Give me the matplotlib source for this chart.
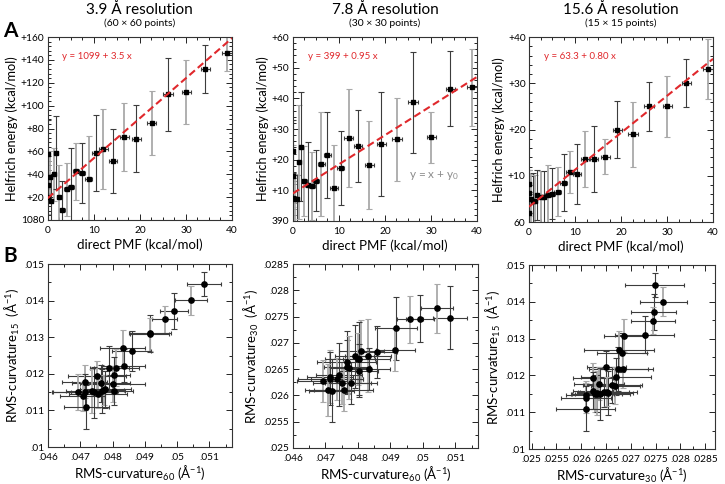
import matplotlib.pyplot as plt
from matplotlib.ticker import AutoMinorLocator, MultipleLocator, FuncFormatter

plt.rcParams['font.family'] = ['Lato', 'DejaVu Sans']
plt.rcParams['mathtext.default'] = 'regular'

# ---- top row: direct PMF vs Helfrich energy ----
pmf = [0.0, 0.05, 0.1, 0.4, 0.8, 1.4, 1.8, 2.5, 3.2, 4.1, 5.0, 6.2,
       7.5, 8.9, 10.4, 12.1, 14.1, 16.6, 19.2, 22.6, 26.1, 30.1, 34.2, 38.9]
pmf_err = [0.2, 0.2, 0.2, 0.3, 0.3, 0.4, 0.4, 0.5, 0.5, 0.6, 0.6, 0.7,
           0.7, 0.8, 0.8, 0.9, 0.9, 1.0, 1.0, 1.0, 1.0, 1.0, 1.0, 1.0]

# Helfrich energy above the panel baseline (kcal/mol)
helf_39 = [57.5, 30.6, 20.4, 38.0, 16.6, 40.0, 59.0, 19.9, 8.8, 26.9, 29.2, 42.6,
           41.0, 35.6, 58.7, 62.2, 52.0, 72.7, 71.2, 84.7, 110.0, 111.5, 132.0, 145.7]
helf_39_err = [30, 25, 20, 22, 20, 23, 32, 28, 25, 23, 34, 25,
               26, 38, 33, 35, 28, 30, 29, 28, 32, 28, 21, 15]
helf_78 = [22.9, 14.7, 7.6, 7.3, 7.1, 19.3, 24.2, 13.0, 11.8, 11.4, 13.1, 18.7,
           21.6, 10.9, 17.2, 27.0, 24.5, 18.3, 25.1, 26.6, 38.7, 27.3, 43.2, 43.6]
helf_78_err = [10, 10, 8, 8, 8, 18.7, 17.8, 11.5, 14, 11, 10, 17,
               14, 14, 12, 16, 11.7, 14.3, 17, 13.5, 16.4, 8.3, 12.3, 12.5]
helf_156 = [8.3, 6.3, 1.9, 4.9, 4.6, 4.6, 5.9, 5.5, 5.4, 5.8, 6.1, 6.6,
            8.5, 10.8, 10.4, 13.6, 13.6, 14.1, 20.0, 19.0, 25.0, 25.0, 30.1, 33.1]
helf_156_err = [3, 5, 4.5, 5.5, 6, 5.5, 5.4, 5.6, 5.6, 6.5, 5.5, 5.2,
                6.2, 4.6, 6.4, 6.1, 7.1, 3.8, 6.1, 7.0, 5.3, 6.6, 5.2, 6.5]

titles = ['3.9 Å resolution', '7.8 Å resolution', '15.6 Å resolution']
subtitles = ['(60 × 60 points)', '(30 × 30 points)', '(15 × 15 points)']
bases = [1080, 390, 60]
y_spans = [160, 60, 40]
y_steps = [20, 10, 10]
fit_intercepts = [1099, 399, 63.3]
fit_slopes = [3.5, 0.95, 0.80]
fit_labels = ['y = 1099 + 3.5 x', 'y = 399 + 0.95 x', 'y = 63.3 + 0.80 x']

# ---- bottom row: RMS curvature at three grid sizes ----
c60 = [.05084, .05043, .04991, .04961, .04917, .04915, .04859, .04831, .04834,
       .04811, .04790, .04751, .04803, .04714, .04765, .04800, .04803, .04692,
       .04715, .04736, .04742, .04756, .04767, .04774, .04778, .04708, .04719]
c60_err = [.00053, .0005, .00043, .0004, .00065, .0006, .0006, .0007, .00066,
           .0007, .0006, .0009, .0005, .0007, .0009, .001, .0006, .0008,
           .001, .0008, .0007, .0009, .0007, .0006, .0008, .0007, .0007]
c15 = [.01446, .01401, .01372, .01349, .01311, .01308, .01262, .01270, .01222,
       .01217, .01217, .01194, .01197, .01178, .01174, .01172, .01154, .01150,
       .01150, .01152, .01150, .01146, .01152, .01156, .01158, .01139, .01110]
c15_err = [.00033, .0004, .00049, .00037, .0005, .00045, .00054, .0005, .00045,
           .0005, .0006, .0004, .0005, .00045, .0005, .0005, .0004, .0005,
           .0005, .0006, .0007, .0004, .0006, .0004, .0005, .0004, .0006]
c30 = [.02748, .02766, .02746, .02745, .02728, .02686, .02683, .02676, .02651,
       .02684, .02675, .02624, .02670, .02636, .02663, .02669, .02647, .02627,
       .02632, .02631, .02639, .02610, .02655, .02653, .02624, .02610, .02609]
c30_err = [.0006, .00047, .00045, .00045, .0006, .0004, .0005, .0007, .0004,
           .0006, .0006, .0004, .0007, .0005, .0006, .0005, .0005, .0004,
           .0005, .0004, .0006, .0004, .0005, .0006, .0004, .0005, .0006]

dark = '#3c3c3c'
light = '#a9a9a9'
red = '#e0282c'

fig = plt.figure(figsize=(7.25, 4.84), dpi=100)

top_pos = [[0.0658, 0.5455, 0.2542, 0.378],
           [0.4041, 0.5434, 0.2538, 0.380],
           [0.7297, 0.5413, 0.2538, 0.382]]
bot_pos = [[0.0662, 0.0764, 0.2538, 0.378],
           [0.4041, 0.0744, 0.2552, 0.380],
           [0.7297, 0.0723, 0.2566, 0.380]]


def style_axes(ax):
    ax.tick_params(which='both', direction='in', top=True, right=True,
                   labelsize=7.3, width=0.6)
    ax.tick_params(axis='x', pad=4)
    ax.tick_params(axis='y', pad=2.5)
    ax.tick_params(which='major', length=4)
    ax.tick_params(which='minor', length=2)
    for s in ax.spines.values():
        s.set_linewidth(0.8)
        s.set_color('#333333')


def draw_errorbars(ax, xs, ys, xe, ye, ms, marker):
    for i in range(len(xs)):
        col = dark if i % 2 == 0 else light
        lw = 0.8 if i % 2 == 0 else 1.3
        ax.errorbar(xs[i], ys[i], yerr=ye[i], fmt='none', ecolor=col,
                    elinewidth=lw, capsize=2.2, capthick=0.8, zorder=2)
        ax.errorbar(xs[i], ys[i], xerr=xe[i], fmt='none', ecolor=dark,
                    elinewidth=0.8, capsize=1.6, capthick=0.8, zorder=2)
    ax.plot(xs, ys, marker, color='black', ms=ms, ls='none', zorder=3)


helf = [helf_39, helf_78, helf_156]
helf_err = [helf_39_err, helf_78_err, helf_156_err]

for k in range(3):
    ax = fig.add_axes(top_pos[k])
    base = bases[k]
    ys = [base + v for v in helf[k]]
    draw_errorbars(ax, pmf, ys, pmf_err, helf_err[k], 2.8, 's')
    xs_fit = [0, 40]
    ax.plot(xs_fit, [fit_intercepts[k] + fit_slopes[k] * x for x in xs_fit],
            color=red, ls=(0, (3.5, 1.8)), lw=1.5, zorder=4)
    ax.set_xlim(0, 40)
    ax.set_ylim(base, base + y_spans[k])
    ax.xaxis.set_major_locator(MultipleLocator(10))
    ax.xaxis.set_minor_locator(AutoMinorLocator(4))
    ax.yaxis.set_major_locator(MultipleLocator(y_steps[k]))
    ax.yaxis.set_minor_locator(AutoMinorLocator(5))
    ax.yaxis.set_major_formatter(FuncFormatter(
        lambda v, p, b=base: f'{v:.0f}' if abs(v - b) < 1e-6 else f'+{v - b:.0f}'))
    style_axes(ax)
    ax.set_xlabel('direct PMF (kcal/mol)', fontsize=9.5, labelpad=3)
    ax.set_ylabel('Helfrich energy (kcal/mol)', fontsize=9.2, labelpad=2)
    ax.text(0.08, 0.895, fit_labels[k], transform=ax.transAxes,
            color=red, fontsize=7, va='center')
    if k == 1:
        ax.text(0.63, 0.245, 'y = x + y$_0$', transform=ax.transAxes,
                color='#8c8c8c', fontsize=8.5, va='center')
    cx = top_pos[k][0] + top_pos[k][2] / 2
    fig.text(cx, 1 - 9.5 / 484, titles[k], ha='center', va='center', fontsize=11)
    fig.text(cx, 1 - 23.5 / 484, subtitles[k], ha='center', va='center', fontsize=7.5)

fig.text(10 / 725, 1 - 31 / 484, 'A', fontsize=15, fontweight='bold',
         ha='center', va='center')
fig.text(10 / 725, 1 - 256 / 484, 'B', fontsize=15, fontweight='bold',
         ha='center', va='center')


def dot_fmt(v, p):
    s = f'{v:.4f}'.rstrip('0').rstrip('.')
    return s[1:] if s.startswith('0') else s


panels = [
    (c60, c60_err, c15, c15_err, (.046, .0517), (.010, .015), .001, .001,
     'RMS-curvature$_{60}$ (Å$^{-1}$)', 'RMS-curvature$_{15}$  (Å$^{-1}$)'),
    (c60, c60_err, c30, c30_err, (.046, .0517), (.025, .0285), .001, .0005,
     'RMS-curvature$_{60}$ (Å$^{-1}$)', 'RMS-curvature$_{30}$  (Å$^{-1}$)'),
    (c30, c30_err, c15, c15_err, (.02495, .0287), (.010, .015), .0005, .001,
     'RMS-curvature$_{30}$ (Å$^{-1}$)', 'RMS-curvature$_{15}$  (Å$^{-1}$)'),
]

for k, (xv, xe, yv, ye, xl, yl, xs, ys, xlab, ylab) in enumerate(panels):
    ax = fig.add_axes(bot_pos[k])
    draw_errorbars(ax, xv, yv, xe, ye, 3.8, 'o')
    ax.set_xlim(*xl)
    ax.set_ylim(*yl)
    ax.xaxis.set_major_locator(MultipleLocator(xs))
    ax.yaxis.set_major_locator(MultipleLocator(ys))
    ax.xaxis.set_minor_locator(AutoMinorLocator(2))
    ax.yaxis.set_minor_locator(AutoMinorLocator(2))
    ax.xaxis.set_major_formatter(FuncFormatter(dot_fmt))
    ax.yaxis.set_major_formatter(FuncFormatter(dot_fmt))
    style_axes(ax)
    ax.set_xlabel(xlab, fontsize=9.5, labelpad=2)
    ax.set_ylabel(ylab, fontsize=9.5, labelpad=2)

fig.savefig('out.png', dpi=100)
